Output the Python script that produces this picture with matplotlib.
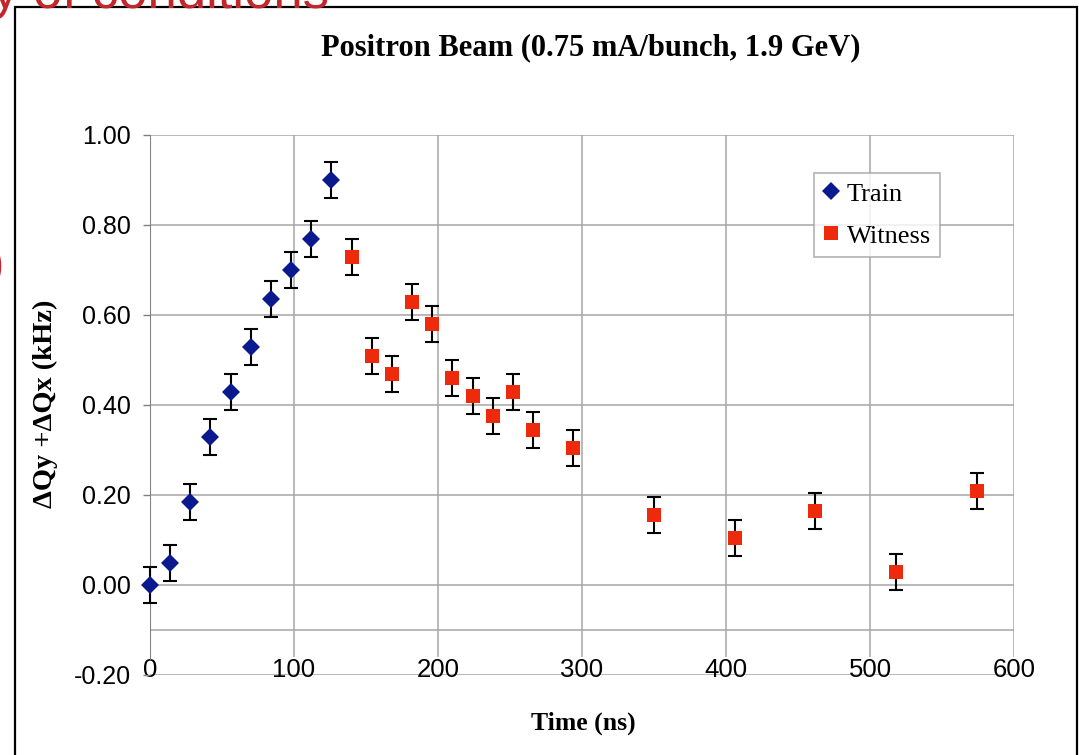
import matplotlib
matplotlib.use("Agg")
import matplotlib.pyplot as plt
from matplotlib.patches import Rectangle

# Measured tune-shift data
train_t = [0, 14, 28, 42, 56, 70, 84, 98, 112, 126]
train_dq = [0.00, 0.05, 0.185, 0.33, 0.43, 0.53, 0.635, 0.70, 0.77, 0.90]
witness_t = [140, 154, 168, 182, 196, 210, 224, 238, 252, 266, 294, 350, 406, 462, 518, 574]
witness_dq = [0.73, 0.51, 0.47, 0.63, 0.58, 0.46, 0.42, 0.375, 0.43, 0.345, 0.305,
              0.155, 0.105, 0.165, 0.03, 0.21]
dq_err = 0.04

x_ticks = [0, 100, 200, 300, 400, 500, 600]
y_ticks = [-0.2, 0.0, 0.2, 0.4, 0.6, 0.8, 1.0]
y_tick_labels = ["-0.20", "0.00", "0.20", "0.40", "0.60", "0.80", "1.00"]

W, H = 1079, 755
fig = plt.figure(figsize=(W / 100, H / 100), dpi=100)
fig.patch.set_facecolor("white")

def fx(px):
    return px / W

def fy(py):
    return 1 - py / H

ax = fig.add_axes([fx(150), fy(675), fx(1014) - fx(150), fy(135) - fy(675)])
ax.set_xlim(0, 600)
ax.set_ylim(-0.2, 1.0)
for s in ax.spines.values():
    s.set_visible(False)

grid_c = "#a6a6a6"
# horizontal grid lines
for yv in [0.0, 0.2, 0.4, 0.6, 0.8, 1.0, -0.1, -0.2]:
    ax.axhline(yv, color=grid_c, lw=1.1, zorder=1)
# vertical grid lines and the value axis
ax.vlines(x_ticks[1:], -0.16, 1.0, color=grid_c, lw=1.1, zorder=1)
ax.vlines([0], -0.167, 1.0, color="#808080", lw=1.5, zorder=2)

ax.set_yticks(y_ticks)
ax.set_yticklabels(y_tick_labels)
ax.set_xticks(x_ticks)
ax.set_xticklabels([str(v) for v in x_ticks])
ax.tick_params(axis="y", direction="out", length=5, width=1, color="#808080",
               pad=9, labelsize=18, labelcolor="black")
ax.tick_params(axis="x", length=0, pad=-12.5, labelsize=18.5, labelcolor="black")
for lab in ax.get_xticklabels() + ax.get_yticklabels():
    lab.set_fontfamily("Liberation Sans")

blue = "#0a1a8e"
red = "#ee2a0c"

ax.errorbar(train_t, train_dq, yerr=dq_err, fmt="none", ecolor="black",
            elinewidth=1.5, capsize=5, capthick=1.5, zorder=3, clip_on=False)
ax.errorbar(witness_t, witness_dq, yerr=dq_err, fmt="none", ecolor="black",
            elinewidth=1.5, capsize=5, capthick=1.5, zorder=3, clip_on=False)
ax.plot(train_t, train_dq, "D", color=blue, markersize=9.0, markeredgewidth=0,
        zorder=4, clip_on=False, label="Train")
ax.plot(witness_t, witness_dq, "s", color=red, markersize=10.5, markeredgewidth=0,
        zorder=4, clip_on=False, label="Witness")

leg = ax.legend(loc="upper left", bbox_to_anchor=(fx(814), fy(173)),
                bbox_transform=fig.transFigure, borderaxespad=0,
                prop={"family": "Liberation Serif", "size": 19},
                frameon=True, fancybox=False, edgecolor="#a0a0a0",
                handlelength=0.6, handletextpad=0.3, borderpad=0.35,
                labelspacing=0.7)
leg.get_frame().set_linewidth(1.2)
leg.set_zorder(6)

fig.text(fx(591), fy(48), "Positron Beam (0.75 mA/bunch, 1.9 GeV)",
         ha="center", va="center", fontsize=22, fontweight="bold",
         family="Liberation Serif")
fig.text(fx(583), fy(723), "Time (ns)", ha="center", va="center",
         fontsize=18.5, fontweight="bold", family="Liberation Serif")
fig.text(fx(45), fy(404), "ΔQy +ΔQx (kHz)", ha="center", va="center",
         rotation=90, fontsize=20.5, fontweight="bold", family="Liberation Serif")

# slide frame and heading around the chart
fig.add_artist(Rectangle((fx(15), -0.02), fx(1077) - fx(15), fy(7) + 0.02,
                         transform=fig.transFigure, fill=False,
                         edgecolor="black", lw=1.6, zorder=0))
fig.text(fx(-8), fy(8), "y of conditions", ha="left", va="baseline",
         fontsize=38, color="#c1272d", family="Liberation Sans")
fig.text(fx(4), fy(266), ")", ha="right", va="center",
         fontsize=38, color="#c1272d", family="Liberation Sans")

fig.savefig("out.png", dpi=100)
